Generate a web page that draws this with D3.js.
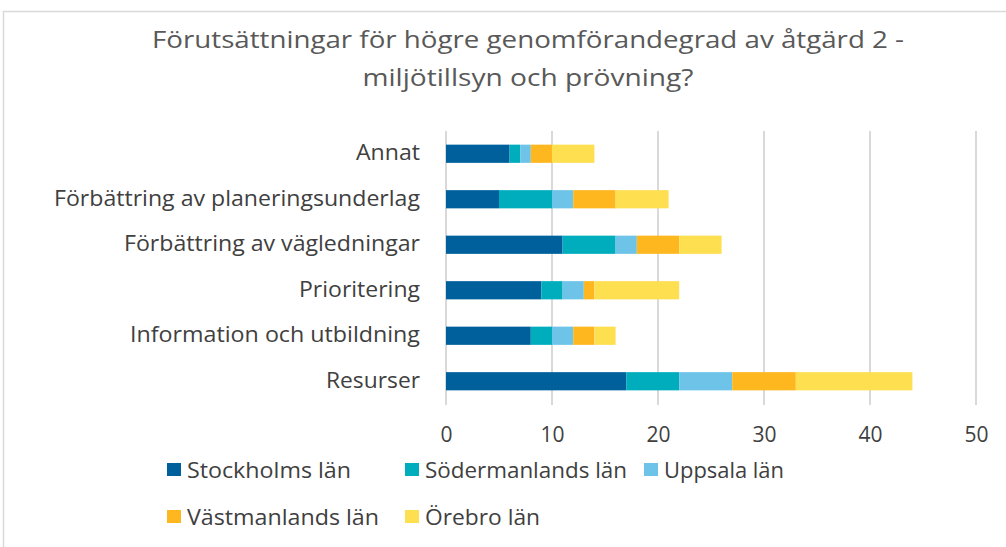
<!DOCTYPE html>
<html><head><meta charset="utf-8">
<script src="https://cdn.jsdelivr.net/npm/d3@7"></script>
<style>body{margin:0;background:#fff;} svg{display:block;}</style>
</head><body>
<script>
const categories = ["Annat","Förbättring av planeringsunderlag","Förbättring av vägledningar","Prioritering","Information och utbildning","Resurser"];
const seriesNames = ["Stockholms län","Södermanlands län","Uppsala län","Västmanlands län","Örebro län"];
const stockholm = [6,5,11,9,8,17];
const sodermanland = [1,5,5,2,2,5];
const uppsala = [1,2,2,2,2,5];
const vastmanland = [2,4,4,1,2,6];
const orebro = [4,5,4,8,2,11];
const colors = ["#00609C","#00ADBD","#6DC4E8","#FFB71F","#FDDF50"];
const xTicks = [0,10,20,30,40,50];
const title = ["Förutsättningar för högre genomförandegrad av åtgärd 2 -","miljötillsyn och prövning?"];

const W=1006,H=547;
const font = "'Open Sans', sans-serif";
const svg = d3.select("body").append("svg").attr("width",W).attr("height",H);
svg.append("rect").attr("x",3.5).attr("y",11.5).attr("width",W+10).attr("height",H+10)
  .attr("fill","#fff").attr("stroke","#d9d9d9").attr("stroke-width",1.5);

svg.append("g").selectAll("text").data(title).join("text")
  .attr("x",528).attr("y",(d,i)=>48+i*38).attr("text-anchor","middle")
  .attr("font-family",font).attr("font-size",24).attr("fill","#595959")
  .attr("textLength",(d,i)=>i===0?752:331).attr("lengthAdjust","spacingAndGlyphs")
  .text(d=>d);

const x = d3.scaleLinear().domain([0,50]).range([446,976]);
const y = d3.scaleBand().domain(categories).range([131,404]).paddingInner(0.6).paddingOuter(0.3);

const gGrid = svg.append("g");
gGrid.selectAll("line").data(xTicks).join("line")
  .attr("x1",d=>x(d)).attr("x2",d=>x(d)).attr("y1",131).attr("y2",405)
  .attr("stroke","#d9d9d9").attr("stroke-width",2);

const rows = categories.map((c,i)=>({cat:c,"Stockholms län":stockholm[i],"Södermanlands län":sodermanland[i],"Uppsala län":uppsala[i],"Västmanlands län":vastmanland[i],"Örebro län":orebro[i]}));
const stacked = d3.stack().keys(seriesNames)(rows);
svg.append("g").selectAll("g").data(stacked).join("g").attr("fill",(d,i)=>colors[i])
  .selectAll("rect").data(d=>d).join("rect")
  .attr("x",d=>x(d[0])).attr("width",d=>x(d[1])-x(d[0]))
  .attr("y",d=>y(d.data.cat)).attr("height",y.bandwidth());

const xAxis = svg.append("g").attr("transform","translate(0,405)")
  .call(d3.axisBottom(x).tickValues(xTicks).tickSize(0).tickPadding(26));
xAxis.select(".domain").remove();
xAxis.selectAll("text").attr("font-family",font).attr("font-size",21).attr("fill","#404040").attr("dy","0.5em");

const yAxis = svg.append("g").attr("transform","translate(420,0)")
  .call(d3.axisLeft(y).tickSize(0).tickPadding(0));
yAxis.select(".domain").remove();
yAxis.selectAll("text").attr("font-family",font).attr("font-size",21).attr("fill","#404040")
  .attr("textLength",function(d){return {"Annat":64,"Förbättring av planeringsunderlag":366,"Förbättring av vägledningar":296,"Prioritering":121,"Information och utbildning":290,"Resurser":94}[d];})
  .attr("lengthAdjust","spacingAndGlyphs");

const legendPos = [[167,470,164],[405,470,202],[644,470,120],[167,517,192],[405,517,115]];
const lg = svg.append("g").selectAll("g").data(seriesNames).join("g")
  .attr("transform",(d,i)=>`translate(${legendPos[i][0]},${legendPos[i][1]})`);
lg.append("rect").attr("x",0).attr("y",-7).attr("width",14).attr("height",13).attr("fill",(d,i)=>colors[i]);
lg.append("text").attr("x",20).attr("y",0).attr("dy","0.35em")
  .attr("font-family",font).attr("font-size",22).attr("fill","#404040")
  .attr("textLength",(d,i)=>legendPos[i][2]).attr("lengthAdjust","spacingAndGlyphs")
  .text(d=>d);
</script>
</body></html>
